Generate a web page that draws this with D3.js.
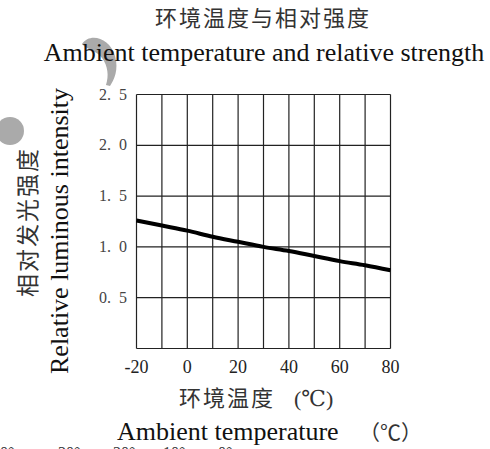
<!DOCTYPE html>
<html>
<head>
<meta charset="utf-8">
<script src="https://cdn.jsdelivr.net/npm/d3@7"></script>
<style>
  body { margin: 0; background: #fff; }
  svg { display: block; }
</style>
</head>
<body>
<div id="graph"></div>
<script>
var width = 490, height = 449;

// data
var temps = [-20, -10, 0, 10, 20, 30, 40, 50, 60, 70, 80];
var intensity = [1.26, 1.21, 1.16, 1.1, 1.05, 1.0, 0.96, 0.91, 0.86, 0.82, 0.77];
var xTicks = [-20, 0, 20, 40, 60, 80];
var yTicks = [0.5, 1.0, 1.5, 2.0, 2.5];
var bottomMarks = ["0°", "30°", "20°", "10°", "0°"];
var bottomMarkX = [0, 58, 113, 163, 218];

var serif = "'Liberation Serif', 'DejaVu Serif', serif";
var cjk = "'Noto Sans CJK SC', sans-serif";

var svg = d3.select("#graph")
    .append("svg")
    .attr("width", width)
    .attr("height", height);

var x = d3.scaleLinear().domain([-20, 80]).range([136.5, 390.5]);
var y = d3.scaleLinear().domain([0, 2.5]).range([348.5, 94.5]);

// grey decorations from the scan
svg.append("path")
    .attr("d", "M82,44 C90,32 110,38 115,56 C119,70 114,80 110,86 L106,85 C109,76 108,66 102,58 C96,50 87,50 82,44 Z")
    .attr("fill", "#aaa");
svg.append("circle")
    .attr("cx", 10).attr("cy", 131).attr("r", 14)
    .attr("fill", "#aaa");

// grid
var grid = svg.append("g").attr("stroke", "#222").attr("stroke-width", 1.2);
grid.selectAll("line.v")
    .data(temps)
    .enter().append("line")
    .attr("class", "v")
    .attr("x1", function(d) { return x(d); })
    .attr("x2", function(d) { return x(d); })
    .attr("y1", y(0)).attr("y2", y(2.5));
grid.selectAll("line.h")
    .data([0].concat(yTicks))
    .enter().append("line")
    .attr("class", "h")
    .attr("x1", x(-20)).attr("x2", x(80))
    .attr("y1", function(d) { return y(d); })
    .attr("y2", function(d) { return y(d); });

// curve
var line = d3.line()
    .x(function(d, i) { return x(temps[i]); })
    .y(function(d) { return y(d); })
    .curve(d3.curveMonotoneX);
svg.append("path")
    .datum(intensity)
    .attr("d", line)
    .attr("fill", "none")
    .attr("stroke", "#000")
    .attr("stroke-width", 4);

// tick labels
svg.selectAll("text.xt")
    .data(xTicks)
    .enter().append("text")
    .attr("class", "xt")
    .attr("x", function(d) { return x(d); })
    .attr("y", 373)
    .attr("text-anchor", "middle")
    .attr("font-family", serif)
    .attr("font-size", 18)
    .attr("fill", "#222")
    .text(function(d) { return d; });

svg.selectAll("text.yt")
    .data(yTicks)
    .enter().append("text")
    .attr("class", "yt")
    .attr("x", 127)
    .attr("y", function(d) { return y(d) + 5; })
    .attr("text-anchor", "end")
    .attr("font-family", serif)
    .attr("font-size", 16)
    .attr("fill", "#444")
    .text(function(d) { return d3.format(".1f")(d).replace(".", ".\u2002"); });

// titles
svg.append("text")
    .attr("x", 263).attr("y", 26)
    .attr("text-anchor", "middle")
    .attr("font-family", cjk)
    .attr("font-size", 22)
    .attr("letter-spacing", 2)
    .attr("fill", "#333")
    .text("环境温度与相对强度");
svg.append("text")
    .attr("x", 264).attr("y", 61)
    .attr("text-anchor", "middle")
    .attr("font-family", serif)
    .attr("font-size", 26)
    .attr("fill", "#111")
    .text("Ambient temperature and relative strength");

// y axis titles
svg.append("text")
    .attr("transform", "translate(36,222) rotate(-90)")
    .attr("text-anchor", "middle")
    .attr("font-family", cjk)
    .attr("font-size", 23)
    .attr("letter-spacing", 2)
    .attr("fill", "#333")
    .text("相对发光强度");
svg.append("text")
    .attr("transform", "translate(68,231) rotate(-90)")
    .attr("text-anchor", "middle")
    .attr("font-family", serif)
    .attr("font-size", 26)
    .attr("fill", "#111")
    .text("Relative luminous intensity");

// x axis titles
svg.append("text")
    .attr("x", 179).attr("y", 406)
    .attr("font-family", cjk)
    .attr("font-size", 22)
    .attr("letter-spacing", 2)
    .attr("fill", "#333")
    .text("环境温度");
svg.append("text")
    .attr("x", 294).attr("y", 406)
    .attr("font-family", serif)
    .attr("font-size", 22)
    .attr("fill", "#333")
    .text("(℃)");
svg.append("text")
    .attr("x", 117).attr("y", 440)
    .attr("font-family", serif)
    .attr("font-size", 26)
    .attr("fill", "#111")
    .text("Ambient temperature");
svg.append("text")
    .attr("x", 359).attr("y", 440)
    .attr("font-family", cjk)
    .attr("font-size", 21)
    .attr("fill", "#333")
    .text("（℃）");

// cut-off marks at the bottom edge
svg.selectAll("text.bm")
    .data(bottomMarks)
    .enter().append("text")
    .attr("class", "bm")
    .attr("x", function(d, i) { return bottomMarkX[i]; })
    .attr("y", 458)
    .attr("font-family", serif)
    .attr("font-size", 16)
    .attr("fill", "#333")
    .text(function(d) { return d; });
</script>
</body>
</html>
